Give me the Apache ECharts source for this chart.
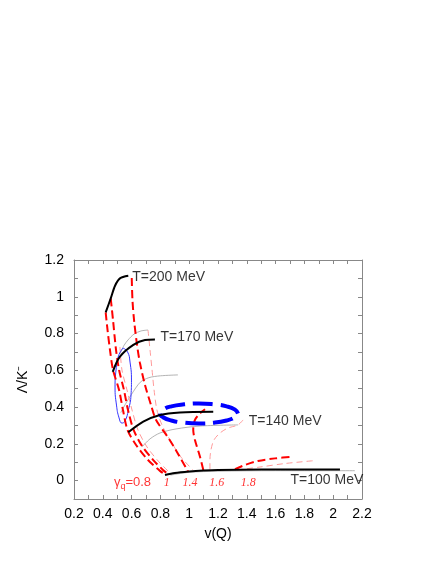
<!DOCTYPE html>
<html>
<head>
<meta charset="utf-8">
<script src="https://cdn.jsdelivr.net/npm/echarts@6/dist/echarts.min.js"></script>
<style>
  html, body { margin: 0; padding: 0; background: #fff; }
  #chart { width: 436px; height: 564px; }
</style>
</head>
<body>
<div id="chart"></div>
<script>
  // isotherms (black, thick)
  const T200 = [[0.420, 0.915], [0.455, 0.991], [0.485, 1.060], [0.519, 1.100], [0.577, 1.114]]
  const T170 = [[0.469, 0.592], [0.519, 0.674], [0.612, 0.738], [0.693, 0.765], [0.762, 0.768]]
  const T140 = [[0.577, 0.263], [0.681, 0.321], [0.797, 0.357], [0.936, 0.371], [1.167, 0.375]]
  const T100 = [[0.832, 0.031], [0.9, 0.042], [1.0, 0.050], [1.1, 0.055], [1.2, 0.058], [1.5, 0.060], [1.8, 0.061], [2.047, 0.061]]

  // lines of constant gamma_q (red, thick dashed)
  const GQ08 = [[0.420, 0.915], [0.433, 0.819], [0.450, 0.710], [0.471, 0.602], [0.513, 0.493], [0.540, 0.384], [0.572, 0.275], [0.631, 0.194], [0.714, 0.112], [0.797, 0.053], [0.839, 0.031]]
  const GQ10 = [[0.455, 0.991], [0.471, 0.873], [0.492, 0.710], [0.513, 0.602], [0.547, 0.493], [0.575, 0.384], [0.614, 0.276], [0.672, 0.189], [0.749, 0.113], [0.818, 0.058], [0.853, 0.036]]
  const GQ14 = [[0.601, 1.102], [0.606, 0.982], [0.617, 0.873], [0.638, 0.737], [0.658, 0.640], [0.693, 0.520], [0.735, 0.411], [0.770, 0.330], [0.846, 0.243], [0.915, 0.156], [0.992, 0.049]]
  const GQ16 = [[1.098, 0.058], [1.075, 0.130], [1.040, 0.221], [1.028, 0.276], [1.040, 0.330], [1.075, 0.366], [1.110, 0.388]]
  const GQ18 = [[1.318, 0.062], [1.388, 0.085], [1.478, 0.107], [1.596, 0.121], [1.719, 0.130]]

  // second set: thin light red dashed + thin gray
  const THIN_A = [[0.519, 0.727], [0.533, 0.602], [0.568, 0.493], [0.603, 0.384], [0.644, 0.276], [0.707, 0.183], [0.790, 0.102], [0.867, 0.042]]
  const THIN14 = [[0.714, 0.819], [0.728, 0.710], [0.742, 0.602], [0.756, 0.493], [0.776, 0.384], [0.811, 0.303], [0.867, 0.221], [0.943, 0.128], [1.026, 0.058]]
  const THIN16 = [[1.374, 0.330], [1.339, 0.303], [1.269, 0.286], [1.214, 0.259], [1.172, 0.221], [1.151, 0.167], [1.144, 0.112], [1.144, 0.058]]
  const THIN18 = [[1.332, 0.058], [1.492, 0.074], [1.665, 0.093], [1.874, 0.109]]
  const GRAY1 = [[0.520, 0.690], [0.547, 0.735], [0.575, 0.765], [0.617, 0.797], [0.665, 0.814], [0.714, 0.819]]
  const GRAY2 = [[0.525, 0.370], [0.560, 0.420], [0.600, 0.470], [0.660, 0.535], [0.720, 0.560], [0.800, 0.570], [0.922, 0.575]]
  const GRAY3 = [[0.672, 0.183], [0.728, 0.227], [0.797, 0.259], [0.908, 0.281], [1.075, 0.297], [1.339, 0.303]]
  const GRAY4 = [[0.870, 0.030], [1.0, 0.045], [1.2, 0.051], [1.6, 0.054], [2.15, 0.054]]

  // blue contours
  const BLUE_LOOP = [[0.540, 0.721], [0.572, 0.700], [0.589, 0.645], [0.599, 0.547], [0.596, 0.466], [0.578, 0.384], [0.554, 0.324], [0.533, 0.313], [0.513, 0.341], [0.495, 0.411], [0.485, 0.509], [0.492, 0.602], [0.509, 0.678], [0.540, 0.721]]
  const BLUE_RING = [[1.339, 0.365], [1.318, 0.386], [1.260, 0.404], [1.172, 0.415], [1.068, 0.420], [0.965, 0.415], [0.876, 0.404], [0.818, 0.386], [0.797, 0.365], [0.818, 0.345], [0.876, 0.327], [0.965, 0.315], [1.068, 0.311], [1.172, 0.315], [1.260, 0.327], [1.318, 0.345], [1.339, 0.365]]

  // texts
  const T_LABELS = [[0.601, 1.109, 'T=200 MeV'], [0.797, 0.779, 'T=170 MeV'], [1.41, 0.324, 'T=140 MeV'], [1.70, 0.004, 'T=100 MeV']]
  const GQ_LABELS = [[0.844, -0.012, '1'], [1.006, -0.010, '1.4'], [1.191, -0.010, '1.6'], [1.410, -0.010, '1.8']]
  const GQ_FIRST = [[0.606, -0.011, 'γq=0.8']]

  const FONT = 'Liberation Sans'
  const chart = echarts.init(document.getElementById('chart'), null, { renderer: 'canvas' })

  // one line series
  function curve(data, color, width, dash, smooth) {
    return {
      type: 'line',
      data: data,
      symbol: 'none',
      smooth: smooth === undefined ? 0.3 : smooth,
      silent: true,
      lineStyle: { color: color, width: width, type: dash || 'solid', cap: 'butt' },
      z: 3
    }
  }

  const tick = (v) => {
    const k = Math.round(v * 10)
    return k % 2 === 0 ? String(+(k / 10).toFixed(1)) : ''
  }

  const frame = { onZero: false, lineStyle: { color: '#888', width: 1 } }
  const inTick = { inside: true, length: 4, lineStyle: { color: '#888' } }

  const option = {
    animation: false,
    grid: { left: 74, right: 74, top: 260, bottom: 65 },
    xAxis: [
      {
        type: 'value', min: 0.2, max: 2.2, interval: 0.1, position: 'bottom',
        axisLine: frame, axisTick: inTick, splitLine: { show: false },
        axisLabel: { formatter: tick, color: '#000', fontSize: 14, fontFamily: FONT, margin: 8 },
        name: 'v(Q)', nameLocation: 'middle', nameGap: 28,
        nameTextStyle: { color: '#000', fontSize: 14, fontFamily: FONT }
      },
      {
        type: 'value', min: 0.2, max: 2.2, interval: 0.1, position: 'top',
        axisLine: frame, axisTick: inTick, splitLine: { show: false }, axisLabel: { show: false }
      }
    ],
    yAxis: [
      {
        type: 'value', min: -0.1, max: 1.2, interval: 0.1, position: 'left',
        axisLine: frame, axisTick: inTick, splitLine: { show: false },
        axisLabel: { formatter: tick, color: '#000', fontSize: 14, fontFamily: FONT, margin: 10 },
        name: 'Λ/K⁻', nameLocation: 'middle', nameGap: 44,
        nameTextStyle: { color: '#000', fontSize: 14, fontFamily: FONT }
      },
      {
        type: 'value', min: -0.1, max: 1.2, interval: 0.1, position: 'right',
        axisLine: frame, axisTick: inTick, splitLine: { show: false }, axisLabel: { show: false }
      }
    ],
    series: [
      curve(GRAY1, '#a0a0a0', 0.8),
      curve(GRAY2, '#a0a0a0', 0.8),
      curve(GRAY3, '#a0a0a0', 0.8),
      curve(GRAY4, '#a0a0a0', 0.8),
      curve(THIN_A, '#ff9a9a', 1, [6, 4]),
      curve(THIN14, '#ff9a9a', 1, [6, 4]),
      curve(THIN16, '#ff9a9a', 1, [6, 4]),
      curve(THIN18, '#ff9a9a', 1, [6, 4]),
      curve(BLUE_LOOP, '#3333ff', 1, 'solid', 0.5),
      curve(GQ08, '#ff0000', 2, [8, 4]),
      curve(GQ10, '#ff0000', 2, [8, 4]),
      curve(GQ14, '#ff0000', 2, [8, 4]),
      curve(GQ16, '#ff0000', 2, [8, 4]),
      curve(GQ18, '#ff0000', 2, [8, 4]),
      curve(BLUE_RING, '#0000ff', 4, [20, 8], 0.5),
      curve(T200, '#000', 2),
      curve(T170, '#000', 2),
      curve(T140, '#000', 2),
      curve(T100, '#000', 2),
      {
        type: 'scatter', data: T_LABELS, symbolSize: 1, silent: true, z: 5,
        itemStyle: { color: 'transparent' },
        label: {
          show: true, position: 'right', distance: 0,
          formatter: (p) => p.data[2],
          color: '#000', fontSize: 14, fontFamily: FONT
        }
      },
      {
        type: 'scatter', data: GQ_LABELS, symbolSize: 1, silent: true, z: 5,
        itemStyle: { color: 'transparent' },
        label: {
          show: true, position: 'inside',
          formatter: (p) => p.data[2],
          color: '#ff0000', fontSize: 12, fontStyle: 'italic', fontFamily: 'Liberation Serif'
        }
      },
      {
        type: 'scatter', data: GQ_FIRST, symbolSize: 1, silent: true, z: 5,
        itemStyle: { color: 'transparent' },
        label: {
          show: true, position: 'inside',
          formatter: () => '{g|γ}{s|q}{g|=0.8}',
          rich: {
            g: { color: '#ff0000', fontSize: 13, fontFamily: FONT },
            s: { color: '#ff0000', fontSize: 9, fontFamily: FONT, padding: [8, 0, 0, 0] }
          }
        }
      }
    ]
  }

  chart.setOption(option)
</script>
</body>
</html>
